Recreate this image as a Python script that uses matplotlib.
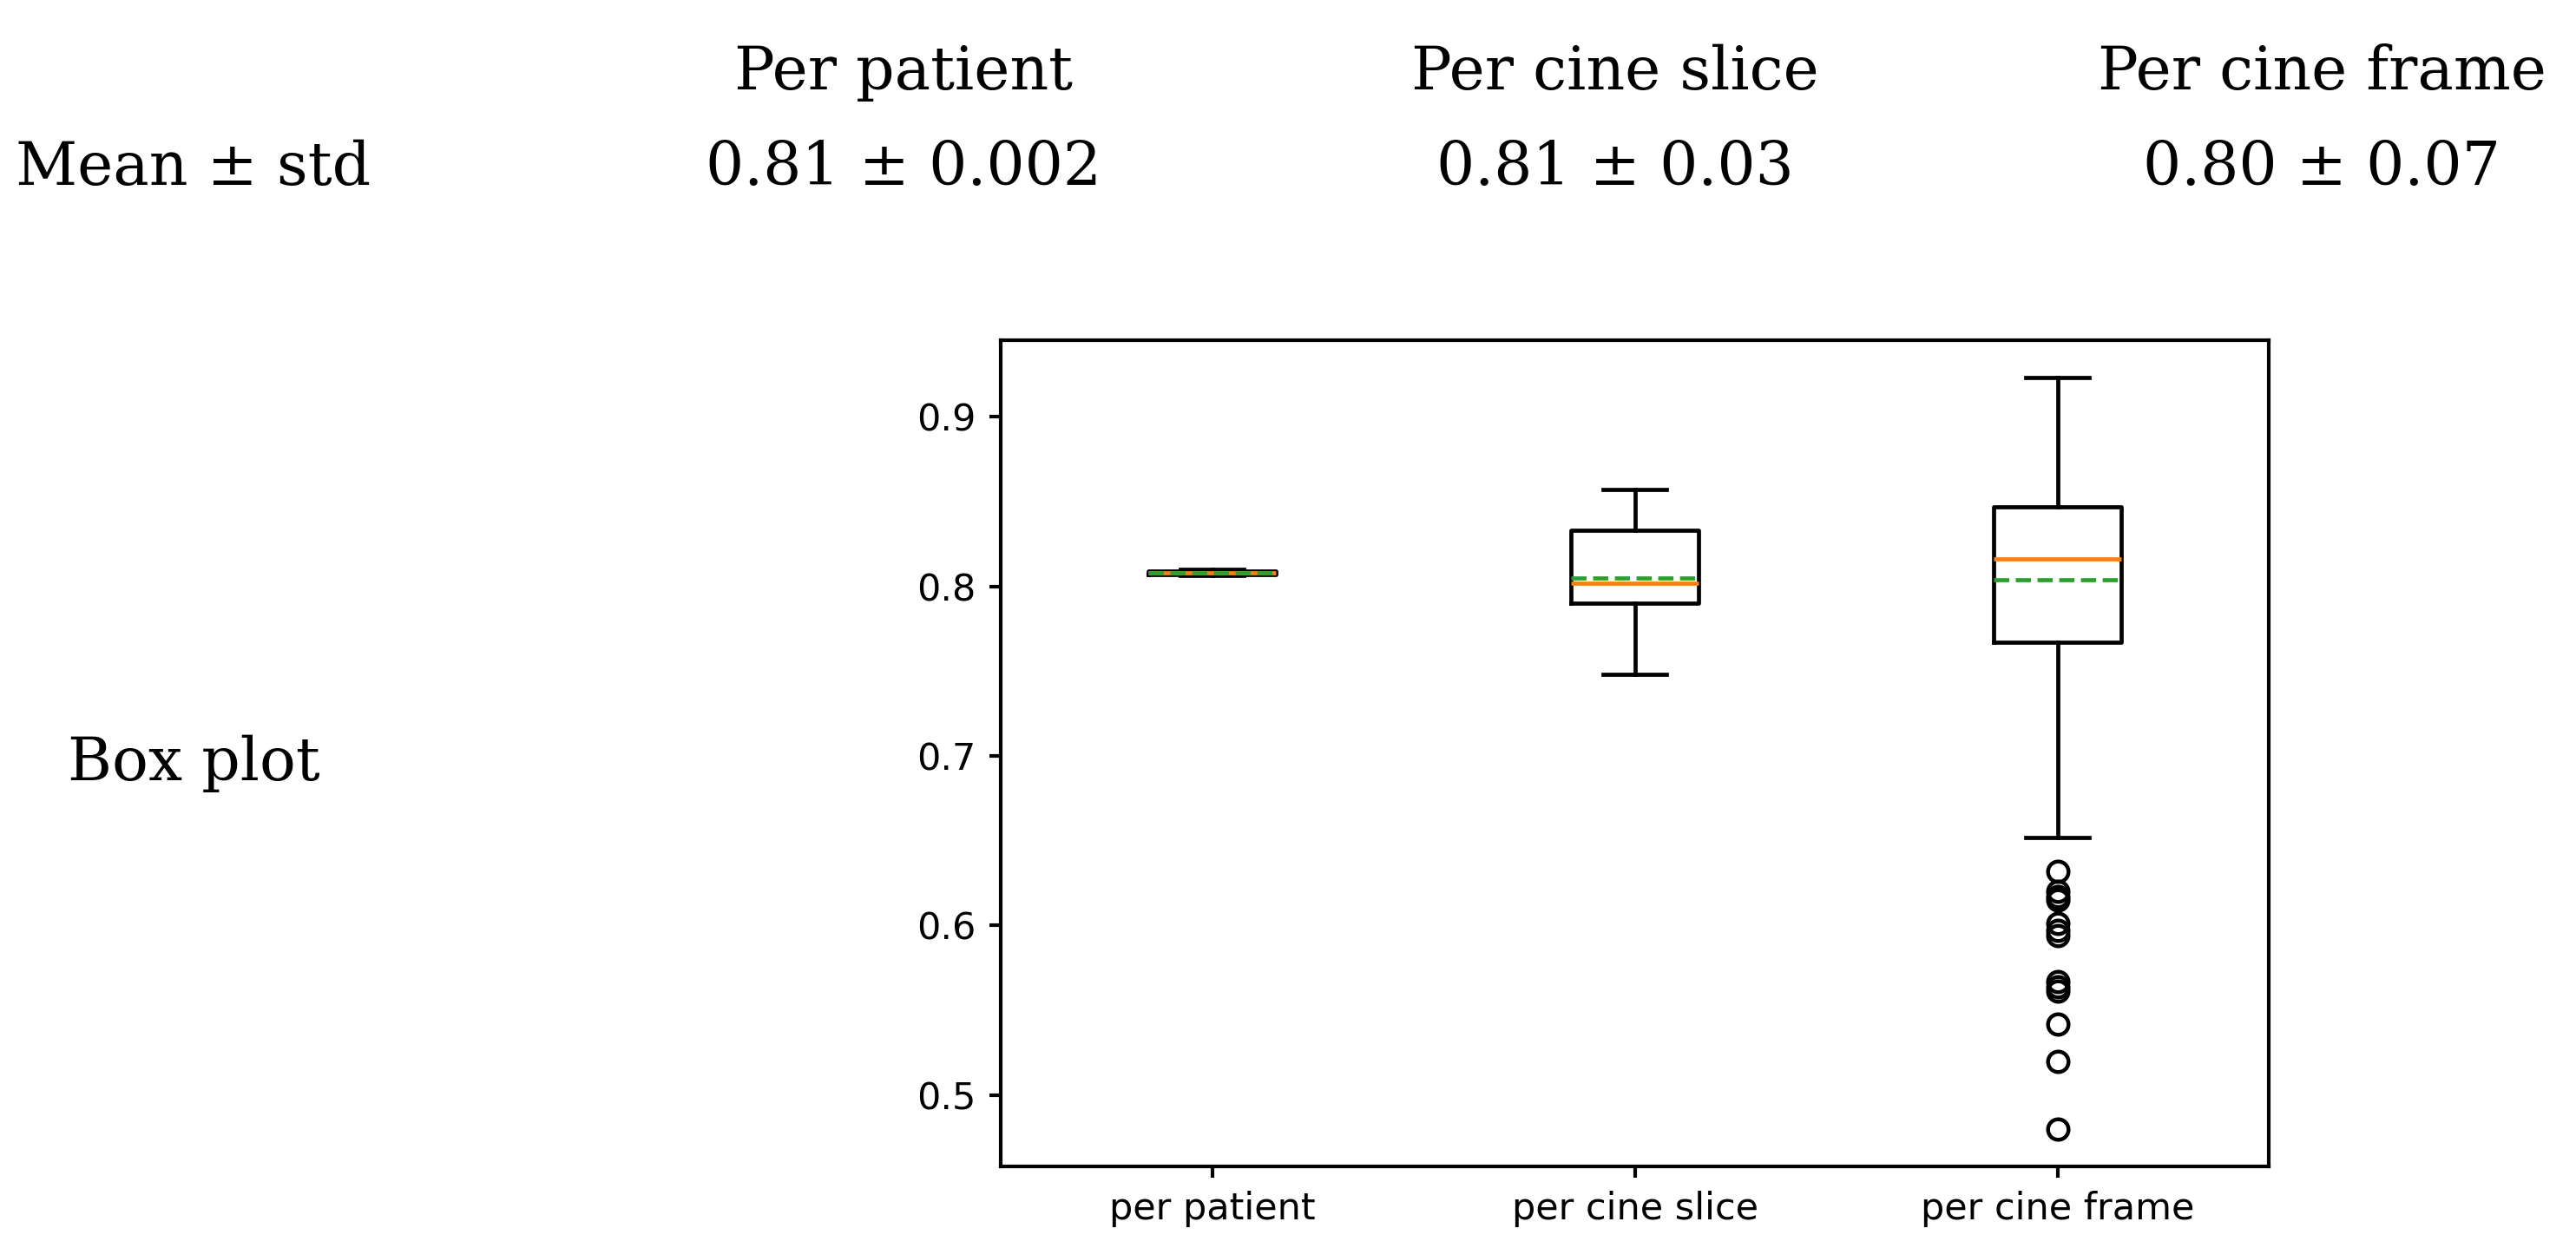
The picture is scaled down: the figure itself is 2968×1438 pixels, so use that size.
import matplotlib
matplotlib.use("Agg")
import matplotlib.pyplot as plt

categories = ["per patient", "per cine slice", "per cine frame"]
col_titles = ["Per patient", "Per cine slice", "Per cine frame"]
mean_std_text = ["0.81 ± 0.002", "0.81 ± 0.03", "0.80 ± 0.07"]

whislo = [0.8065, 0.748, 0.652]
q1 = [0.8070, 0.790, 0.767]
med = [0.8080, 0.802, 0.816]
mean = [0.8081, 0.805, 0.804]
q3 = [0.8092, 0.833, 0.847]
whishi = [0.8098, 0.857, 0.923]
fliers = [[], [], [0.632, 0.620, 0.617, 0.615, 0.601, 0.597, 0.594,
                  0.567, 0.564, 0.561, 0.542, 0.520, 0.480]]

stats = []
for i, c in enumerate(categories):
    stats.append(dict(label=c, whislo=whislo[i], q1=q1[i], med=med[i],
                      mean=mean[i], q3=q3[i], whishi=whishi[i], fliers=fliers[i]))

W, H = 2968, 1438
fig = plt.figure(figsize=(W / 100, H / 100), dpi=100)

ax = fig.add_axes([1153 / W, 1 - 1344 / H, (2614 - 1153) / W, (1344 - 392) / H])
lw = 3.4
ax.bxp(stats, showmeans=True, meanline=True,
       boxprops=dict(linewidth=lw, color="black"),
       whiskerprops=dict(linewidth=lw, color="black"),
       capprops=dict(linewidth=lw, color="black"),
       medianprops=dict(linewidth=lw, color="C1"),
       meanprops=dict(linewidth=lw, color="C2", linestyle="--"),
       flierprops=dict(marker="o", markersize=17, markeredgewidth=3.2,
                       markerfacecolor="none", markeredgecolor="black"))
ax.set_yticks([0.5, 0.6, 0.7, 0.8, 0.9])
ax.tick_params(labelsize=31, width=3, length=9.5, pad=11)
for s in ax.spines.values():
    s.set_linewidth(3)

serif = ["DejaVu Serif"]
fs = 50
xs = [1041, 1861, 2675]
for x, t, v in zip(xs, col_titles, mean_std_text):
    fig.text(x / W, 1 - 84 / H, t, ha="center", va="center", fontsize=fs, family=serif)
    fig.text(x / W, 1 - 194 / H, v, ha="center", va="center", fontsize=fs, family=serif)
fig.text(18 / W, 1 - 194 / H, "Mean ± std", ha="left", va="center", fontsize=fs, family=serif)
fig.text(223 / W, 1 - 880 / H, "Box plot", ha="center", va="center", fontsize=fs, family=serif)

fig.savefig("out.png", dpi=100, facecolor="white")
